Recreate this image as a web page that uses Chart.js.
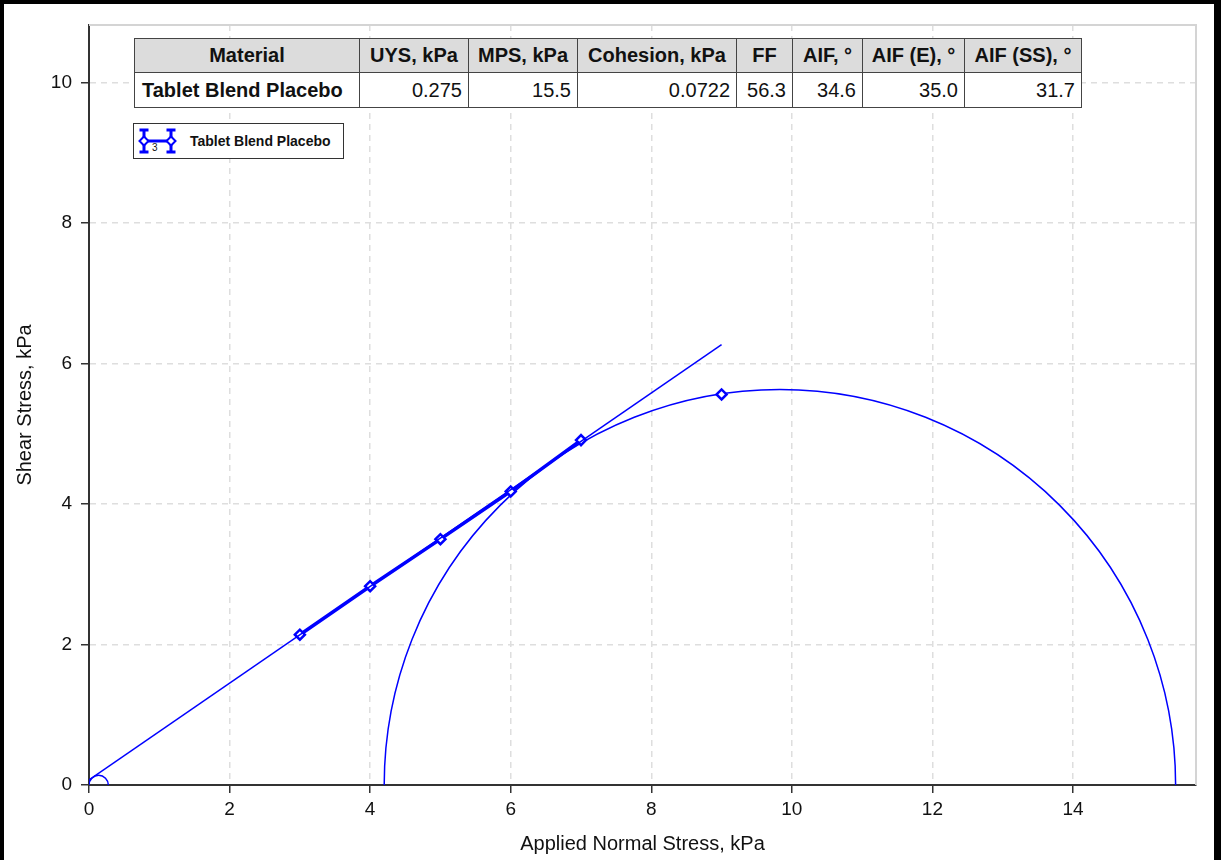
<!DOCTYPE html>
<html>
<head>
<meta charset="utf-8">
<script src="https://cdn.jsdelivr.net/npm/chart.js@4/dist/chart.umd.min.js"></script>
<style>
  html, body { margin: 0; padding: 0; background: #fff; }
  #wrap { position: relative; width: 1221px; height: 860px; overflow: hidden; font-family: "Liberation Sans", Arial, sans-serif; }
  #frame { position: absolute; left: 0; top: 0; width: 1221px; height: 860px; box-sizing: border-box;
           border-top: 4px solid #000; border-left: 4px solid #000; border-right: 7px solid #000; pointer-events: none; }
  #tbl { position: absolute; left: 134px; top: 38px; border-collapse: collapse; table-layout: fixed; background: #fff; }
  #tbl th, #tbl td { border: 1.5px solid #444; padding: 0 6px; white-space: nowrap; font-size: 20px; color: #111; }
  #tbl th { background: #dcdcdc; font-weight: bold; text-align: center; height: 33px; }
  #tbl td { height: 34px; text-align: right; }
  #tbl td.name { font-weight: bold; text-align: left; padding-left: 7px; }
  #legend { position: absolute; left: 133px; top: 123px; width: 209px; height: 34px; border: 1.5px solid #333; background: #fff;
            display: flex; align-items: center; }
  #legend span { font-weight: bold; font-size: 14px; color: #111; margin-left: 4px; }
</style>
</head>
<body>
<div id="wrap">
  <canvas id="c" width="1221" height="860"></canvas>
  <table id="tbl">
    <colgroup id="cols"></colgroup>
    <thead><tr id="hdr"></tr></thead>
    <tbody><tr id="row"></tr></tbody>
  </table>
  <div id="legend">
    <svg width="48" height="28" viewBox="0 0 48 28" style="margin-left:4px">
      <g stroke="#0000ff" stroke-width="3" fill="none">
        <line x1="6" y1="3" x2="6" y2="25"/><line x1="1.5" y1="3" x2="10.5" y2="3"/><line x1="1.5" y1="25" x2="10.5" y2="25"/>
        <line x1="33" y1="3" x2="33" y2="25"/><line x1="28.5" y1="3" x2="37.5" y2="3"/><line x1="28.5" y1="25" x2="37.5" y2="25"/>
        <line x1="6" y1="14" x2="33" y2="14"/>
      </g>
      <g stroke="#0000ff" stroke-width="2" fill="#fff">
        <polygon points="6,9.5 10.5,14 6,18.5 1.5,14"/><polygon points="33,9.5 37.5,14 33,18.5 28.5,14"/>
      </g>
      <text x="14" y="24" font-size="10" fill="#111" font-family="Liberation Sans, Arial, sans-serif">3</text>
    </svg>
    <span id="legtext"></span>
  </div>
  <div id="frame"></div>
</div>
<script>
// ---- data ----
const materialName = "Tablet Blend Placebo";
const tableHeaders = ["Material", "UYS, kPa", "MPS, kPa", "Cohesion, kPa", "FF", "AIF, °", "AIF (E), °", "AIF (SS), °"];
const tableValues  = ["Tablet Blend Placebo", "0.275", "15.5", "0.0722", "56.3", "34.6", "35.0", "31.7"];
const tableColWidths = [225, 109, 109, 159, 56, 70, 102, 117];

const shearX = [3, 4, 5, 6, 7];
const shearY = [2.14, 2.83, 3.50, 4.18, 4.91];
const preshearX = [9];
const preshearY = [5.56];
const locusX = [0, 9];
const locusY = [0.0722, 6.27];
// Mohr circles: [minor principal stress, major principal stress]
const mohrLow  = [0, 4.2];
const mohrHigh = [0.275, 15.46];

const xTicks = [0, 2, 4, 6, 8, 10, 12, 14];
const yTicks = [0, 2, 4, 6, 8, 10];
const xMax = 15.75, yMax = 10.82;

// ---- table ----
const cols = document.getElementById('cols');
tableColWidths.forEach(w => { const c = document.createElement('col'); c.style.width = w + 'px'; cols.appendChild(c); });
document.getElementById('tbl').style.width = tableColWidths.reduce((a, b) => a + b, 0) + 'px';
const hdr = document.getElementById('hdr');
tableHeaders.forEach(h => { const th = document.createElement('th'); th.textContent = h; hdr.appendChild(th); });
const row = document.getElementById('row');
tableValues.forEach((v, i) => { const td = document.createElement('td'); td.textContent = v; if (i === 0) td.className = 'name'; row.appendChild(td); });
document.getElementById('legtext').textContent = materialName;

const BLUE = '#0000ff';
const FONT = "'Liberation Sans', Arial, sans-serif";

const mohrPlugin = {
  id: 'mohr',
  beforeDatasetsDraw(chart) {
    const {ctx, chartArea, scales: {x, y}} = chart;
    ctx.save();
    ctx.beginPath();
    ctx.rect(chartArea.left, chartArea.top, chartArea.right - chartArea.left, chartArea.bottom - chartArea.top);
    ctx.clip();
    ctx.strokeStyle = BLUE;
    ctx.lineWidth = 1.5;
    for (let i = 0; i < mohrLow.length; i++) {
      const c = (mohrLow[i] + mohrHigh[i]) / 2, r = (mohrHigh[i] - mohrLow[i]) / 2;
      const cx = x.getPixelForValue(c), cy = y.getPixelForValue(0);
      const rx = Math.abs(x.getPixelForValue(c + r) - cx), ry = Math.abs(y.getPixelForValue(r) - cy);
      ctx.beginPath();
      ctx.ellipse(cx, cy, rx, ry, 0, Math.PI, 2 * Math.PI);
      ctx.stroke();
    }
    ctx.restore();
  }
};

const framePlugin = {
  id: 'areaFrame',
  beforeDatasetsDraw(chart) {
    const {ctx, chartArea: a} = chart;
    ctx.save();
    ctx.strokeStyle = '#d4d4d4';
    ctx.lineWidth = 2;
    ctx.beginPath();
    ctx.moveTo(a.left, a.top); ctx.lineTo(a.right, a.top); ctx.lineTo(a.right, a.bottom);
    ctx.stroke();
    ctx.restore();
  }
};

new Chart(document.getElementById('c'), {
  type: 'scatter',
  data: {
    datasets: [
      { data: locusX.map((v, i) => ({x: v, y: locusY[i]})), showLine: true, borderColor: BLUE, borderWidth: 1.5, pointRadius: 0 },
      { data: shearX.map((v, i) => ({x: v, y: shearY[i]})), showLine: true, borderColor: BLUE, borderWidth: 3.5,
        pointStyle: 'rectRot', pointRadius: 5, pointBackgroundColor: '#fff', pointBorderColor: BLUE, pointBorderWidth: 2.5 },
      { data: preshearX.map((v, i) => ({x: v, y: preshearY[i]})), showLine: false,
        pointStyle: 'rectRot', pointRadius: 5, pointBackgroundColor: '#fff', pointBorderColor: BLUE, pointBorderWidth: 2.5 }
    ]
  },
  options: {
    responsive: false,
    animation: false,
    devicePixelRatio: 1,
    layout: { padding: { top: 25, right: 25, left: 0, bottom: 0 } },
    plugins: { legend: { display: false }, tooltip: { enabled: false } },
    scales: {
      x: {
        type: 'linear', min: 0, max: xMax,
        afterFit(s) { s.height = 75; },
        afterBuildTicks(s) { s.ticks = xTicks.map(v => ({value: v})); },
        grid: { color: '#dedede', lineWidth: 1.5, tickLength: 8, tickColor: '#333', tickWidth: 1.5 },
        border: { color: '#333', width: 2, dash: [6, 5] },
        ticks: { color: '#111', font: { family: FONT, size: 19 }, padding: 5, maxRotation: 0 },
        title: { display: true, text: 'Applied Normal Stress, kPa', color: '#111', font: { family: FONT, size: 20 }, padding: { top: 0, bottom: 4 } }
      },
      y: {
        type: 'linear', min: 0, max: yMax,
        afterFit(s) { s.width = 89; },
        afterBuildTicks(s) { s.ticks = yTicks.map(v => ({value: v})); },
        grid: { color: '#dedede', lineWidth: 1.5, tickLength: 8, tickColor: '#333', tickWidth: 1.5 },
        border: { color: '#333', width: 2, dash: [6, 5] },
        ticks: { color: '#111', font: { family: FONT, size: 19 }, padding: 9 },
        title: { display: true, text: 'Shear Stress, kPa', color: '#111', font: { family: FONT, size: 20 }, padding: { top: 13, bottom: 0 } }
      }
    }
  },
  plugins: [mohrPlugin, framePlugin]
});
</script>
</body>
</html>
